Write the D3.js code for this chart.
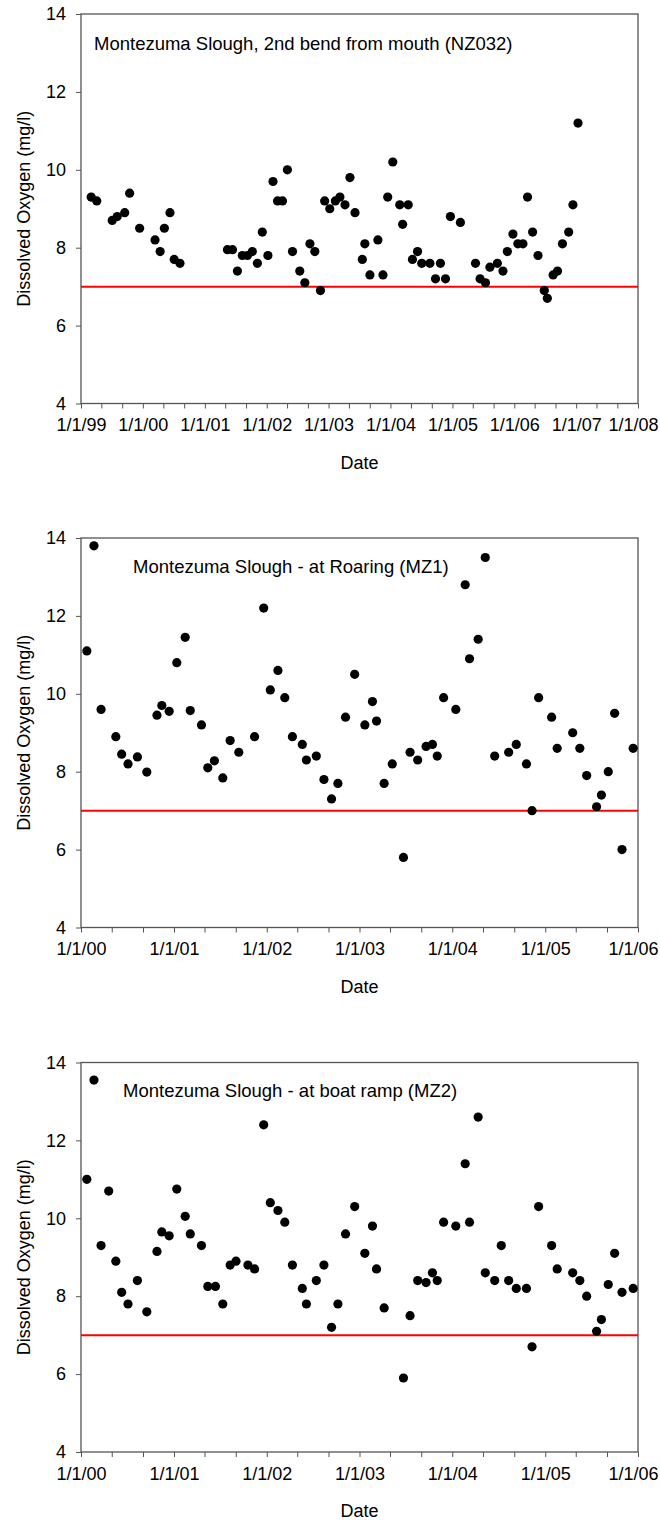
<!DOCTYPE html>
<html><head><meta charset="utf-8">
<script src="https://cdn.jsdelivr.net/npm/d3@7"></script>
<style>body{margin:0;background:#fff}svg{display:block}text{font-family:"Liberation Sans",Arial,sans-serif;fill:#000}</style>
</head><body>
<script>
// Panel 1: Montezuma Slough, 2nd bend from mouth (NZ032)
const nz032Dates = ["1999-03-02","1999-04-04","1999-07-04","1999-08-03","1999-09-16","1999-10-15","1999-12-13","2000-03-13","2000-04-12","2000-05-07","2000-06-09","2000-07-04","2000-08-07","2001-05-14","2001-06-13","2001-07-12","2001-08-10","2001-09-09","2001-10-08","2001-11-07","2001-12-06","2002-01-08","2002-02-07","2002-03-06","2002-04-04","2002-05-03","2002-06-02","2002-07-15","2002-08-14","2002-09-13","2002-10-12","2002-11-14","2002-12-09","2003-01-08","2003-02-10","2003-03-09","2003-04-08","2003-05-07","2003-06-06","2003-07-19","2003-08-03","2003-09-02","2003-10-19","2003-11-18","2003-12-16","2004-01-15","2004-02-25","2004-03-13","2004-04-15","2004-05-10","2004-06-09","2004-07-04","2004-08-21","2004-09-23","2004-10-22","2004-11-21","2004-12-20","2005-02-17","2005-05-17","2005-06-13","2005-07-15","2005-08-10","2005-09-23","2005-10-26","2005-11-21","2005-12-24","2006-01-22","2006-02-21","2006-03-20","2006-04-19","2006-05-21","2006-06-27","2006-07-15","2006-08-18","2006-09-13","2006-10-12","2006-11-18","2006-12-13","2007-01-12"];
const nz032DO = [9.3,9.2,8.7,8.8,8.9,9.4,8.5,8.2,7.9,8.5,8.9,7.7,7.6,7.95,7.95,7.4,7.8,7.8,7.9,7.6,8.4,7.8,9.7,9.2,9.2,10.0,7.9,7.4,7.1,8.1,7.9,6.9,9.2,9.0,9.2,9.3,9.1,9.8,8.9,7.7,8.1,7.3,8.2,7.3,9.3,10.2,9.1,8.6,9.1,7.7,7.9,7.6,7.6,7.2,7.6,7.2,8.8,8.65,7.6,7.2,7.1,7.5,7.6,7.4,7.9,8.35,8.1,8.1,9.3,8.4,7.8,6.9,6.7,7.3,7.4,8.1,8.4,9.1,11.2];

// Panel 2: Montezuma Slough - at Roaring (MZ1)
const mz1Dates = ["2000-01-24","2000-02-21","2000-03-20","2000-05-17","2000-06-09","2000-07-04","2000-08-10","2000-09-16","2000-10-26","2000-11-14","2000-12-13","2001-01-12","2001-02-14","2001-03-06","2001-04-19","2001-05-14","2001-06-09","2001-07-12","2001-08-10","2001-09-13","2001-11-14","2001-12-20","2002-01-15","2002-02-14","2002-03-13","2002-04-12","2002-05-21","2002-06-06","2002-07-15","2002-08-14","2002-09-13","2002-10-08","2002-11-07","2002-12-13","2003-01-22","2003-02-21","2003-03-09","2003-04-08","2003-05-10","2003-06-23","2003-07-19","2003-08-18","2003-09-20","2003-10-15","2003-11-03","2003-11-28","2004-01-15","2004-02-21","2004-03-09","2004-04-12","2004-05-10","2004-06-16","2004-08-10","2004-09-09","2004-10-19","2004-11-10","2004-12-06","2005-01-26","2005-02-17","2005-04-19","2005-05-17","2005-06-13","2005-07-22","2005-08-10","2005-09-06","2005-10-01","2005-10-30","2005-12-13"];
const mz1DO = [11.1,13.8,9.6,8.9,8.45,8.2,8.38,7.99,9.45,9.7,9.55,10.8,11.45,9.57,9.2,8.1,8.28,7.84,8.8,8.5,8.9,12.2,10.1,10.6,9.9,8.9,8.7,8.3,8.4,7.8,7.3,7.7,9.4,10.5,9.2,9.8,9.3,7.7,8.2,5.8,8.5,8.3,8.65,8.7,8.4,9.9,9.6,12.8,10.9,11.4,13.5,8.4,8.5,8.7,8.2,7.0,9.9,9.4,8.6,9.0,8.6,7.9,7.1,7.4,8.0,9.5,6.0,8.6];

// Panel 3: Montezuma Slough - at boat ramp (MZ2)
const mz2Dates = ["2000-01-24","2000-02-21","2000-03-20","2000-04-19","2000-05-17","2000-06-09","2000-07-04","2000-08-10","2000-09-16","2000-10-26","2000-11-14","2000-12-13","2001-01-12","2001-02-14","2001-03-06","2001-04-19","2001-05-14","2001-06-13","2001-07-12","2001-08-10","2001-09-02","2001-10-19","2001-11-14","2001-12-20","2002-01-15","2002-02-14","2002-03-13","2002-04-12","2002-05-21","2002-06-06","2002-07-15","2002-08-14","2002-09-13","2002-10-08","2002-11-07","2002-12-13","2003-01-22","2003-02-21","2003-03-09","2003-04-08","2003-06-23","2003-07-19","2003-08-18","2003-09-20","2003-10-15","2003-11-03","2003-11-28","2004-01-15","2004-02-21","2004-03-09","2004-04-12","2004-05-10","2004-06-16","2004-07-12","2004-08-10","2004-09-09","2004-10-19","2004-11-10","2004-12-06","2005-01-26","2005-02-17","2005-04-19","2005-05-17","2005-06-13","2005-07-22","2005-08-10","2005-09-06","2005-10-01","2005-10-30","2005-12-13"];
const mz2DO = [11.0,13.55,9.3,10.7,8.9,8.1,7.8,8.4,7.6,9.15,9.65,9.55,10.75,10.05,9.6,9.3,8.25,8.25,7.8,8.8,8.9,8.8,8.7,12.4,10.4,10.2,9.9,8.8,8.2,7.8,8.4,8.8,7.2,7.8,9.6,10.3,9.1,9.8,8.7,7.7,5.9,7.5,8.4,8.35,8.6,8.4,9.9,9.8,11.4,9.9,12.6,8.6,8.4,9.3,8.4,8.2,8.2,6.7,10.3,9.3,8.7,8.6,8.4,8.0,7.1,7.4,8.3,9.1,8.1,8.2];

const yTickValues = [4,6,8,10,12,14];
const yDomain = [4,14];
const standardDO = 7;
const yTitle = "Dissolved Oxygen (mg/l)";
const xTitle = "Date";
const titles = ["Montezuma Slough, 2nd bend from mouth (NZ032)","Montezuma Slough - at Roaring (MZ1)","Montezuma Slough - at boat ramp (MZ2)"];
const xDomains = [["1999-01-01","2008-01-01"],["2000-01-01","2006-01-01"],["2000-01-01","2006-01-01"]];

const parse = d3.timeParse("%Y-%m-%d");
const fmt = d3.timeFormat("%-m/%-d/%y");

const panels = [
  {dates: nz032Dates, vals: nz032DO, top: 14, title: titles[0], tx: 94, ty: 49.5, dom: xDomains[0]},
  {dates: mz1Dates, vals: mz1DO, top: 538, title: titles[1], tx: 133, ty: 572.5, dom: xDomains[1]},
  {dates: mz2Dates, vals: mz2DO, top: 1062.5, title: titles[2], tx: 123, ty: 1096.5, dom: xDomains[2]}
];
const left = 81, right = 638, ph = 389.5;
const FONT = 18;
const W = 660;

const svg = d3.select("body").append("svg").attr("width",W).attr("height",1524);

panels.forEach(p => {
  const x = d3.scaleTime().domain(p.dom.map(parse)).range([left,right]);
  const y = d3.scaleLinear().domain(yDomain).range([p.top+ph, p.top]);
  const g = svg.append("g");
  const axisColor = "#555";

  // minor ticks (every 4 months)
  const minor = d3.timeMonth.every(4).range(x.domain()[0], x.domain()[1]).filter(d => d.getMonth() !== 0);
  g.append("g").attr("transform",`translate(0,${p.top+ph})`)
    .call(d3.axisBottom(x).tickValues(minor).tickSize(5).tickFormat(""))
    .call(s => { s.select(".domain").remove(); s.selectAll("line").attr("stroke",axisColor); });

  const gx = g.append("g").attr("transform",`translate(0,${p.top+ph})`)
    .call(d3.axisBottom(x).ticks(d3.timeYear.every(1)).tickSize(5).tickPadding(10).tickFormat(fmt));
  gx.select(".domain").remove();
  gx.selectAll("line").attr("stroke",axisColor);
  gx.selectAll("text").attr("font-size",FONT).attr("font-family","Liberation Sans, Arial, sans-serif");
  // keep the last label inside the page
  gx.selectAll("text").each(function(){
    const b = this.getBBox();
    const tx = x(d3.select(this.parentNode).datum());
    const overflow = tx + b.x + b.width - (W - 2);
    if (overflow > 0) d3.select(this).attr("x", -overflow);
  });

  const gy = g.append("g").attr("transform",`translate(${left},0)`)
    .call(d3.axisLeft(y).tickValues(yTickValues).tickSize(5).tickPadding(10));
  gy.select(".domain").remove();
  gy.selectAll("line").attr("stroke",axisColor);
  gy.selectAll("text").attr("font-size",FONT).attr("font-family","Liberation Sans, Arial, sans-serif");

  // frame
  g.append("rect").attr("x",left).attr("y",p.top).attr("width",right-left).attr("height",ph)
    .attr("fill","none").attr("stroke",axisColor).attr("stroke-width",1.3);

  // red standard line
  g.append("line").attr("x1",x.range()[0]).attr("x2",x.range()[1])
    .attr("y1",y(standardDO)).attr("y2",y(standardDO))
    .attr("stroke","#ff0000").attr("stroke-width",2);

  // points
  g.append("g").selectAll("circle").data(p.dates.map((d,i)=>({d:parse(d),v:p.vals[i]})))
    .join("circle").attr("cx",d=>x(d.d)).attr("cy",d=>y(d.v)).attr("r",4.6).attr("fill","#000");

  // title
  g.append("text").attr("x",p.tx).attr("y",p.ty).attr("font-size",18.5).text(p.title);

  // axis titles
  g.append("text").attr("x",(left+right)/2).attr("y",p.top+ph+65).attr("text-anchor","middle")
    .attr("font-size",FONT).text(xTitle);
  g.append("text").attr("transform",`translate(30,${p.top+ph/2}) rotate(-90)`).attr("text-anchor","middle")
    .attr("font-size",FONT).text(yTitle);
});
</script>
</body></html>
